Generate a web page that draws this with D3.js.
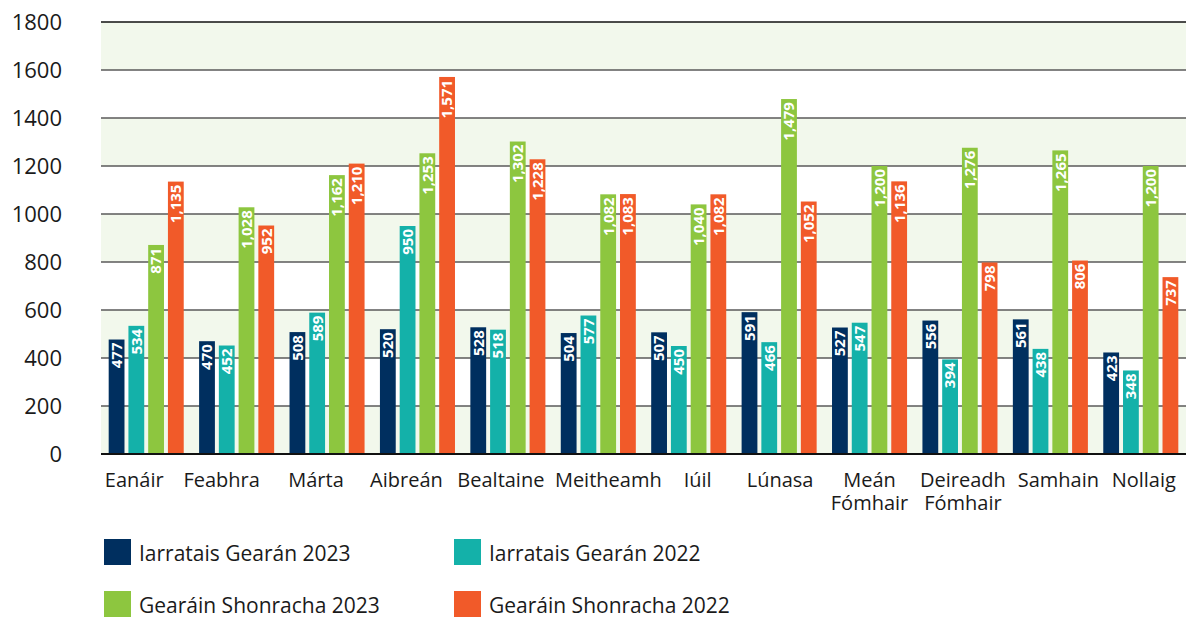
<!DOCTYPE html>
<html>
<head>
<meta charset="utf-8">
<script src="https://cdn.jsdelivr.net/npm/d3@7"></script>
<style>
  body { margin: 0; background: #fff; }
  svg text { font-family: "Open Sans", "Noto Sans", sans-serif; }
</style>
</head>
<body>
<div id="chart"></div>
<script>
// months along the x axis (a "|" marks a line break)
var months = ["Eanáir", "Feabhra", "Márta", "Aibreán", "Bealtaine", "Meitheamh", "Iúil",
  "Lúnasa", "Meán|Fómhair", "Deireadh|Fómhair", "Samhain", "Nollaig"];

var seriesNames = ["Iarratais Gearán 2023", "Iarratais Gearán 2022",
  "Gearáin Shonracha 2023", "Gearáin Shonracha 2022"];
var seriesColors = ["#002f5f", "#14b1a9", "#8dc63f", "#f15a29"];

var iarratais2023 = [477, 470, 508, 520, 528, 504, 507, 591, 527, 556, 561, 423];
var iarratais2022 = [534, 452, 589, 950, 518, 577, 450, 466, 547, 394, 438, 348];
var gearain2023 = [871, 1028, 1162, 1253, 1302, 1082, 1040, 1479, 1200, 1276, 1265, 1200];
var gearain2022 = [1135, 952, 1210, 1571, 1228, 1083, 1082, 1052, 1136, 798, 806, 737];

var yTicks = [0, 200, 400, 600, 800, 1000, 1200, 1400, 1600, 1800];

var seriesValues = [iarratais2023, iarratais2022, gearain2023, gearain2022];

var svgWidth = 1186;
var svgHeight = 617;

// plot area
var chartMargin = { top: 22, right: 0, bottom: 163, left: 101 };
var chartWidth = svgWidth - chartMargin.left - chartMargin.right;
var chartHeight = svgHeight - chartMargin.top - chartMargin.bottom;

// the month labels don't sit exactly centred in the original, nudge them a bit
var labelNudge = [-12, -15, -11, -11, -7, 10, 9, 1, 0, 3, 8, 3];

var svg = d3.select("#chart")
  .append("svg")
  .attr("width", svgWidth)
  .attr("height", svgHeight);

var chartGroup = svg.append("g")
  .attr("transform", `translate(${chartMargin.left}, ${chartMargin.top})`);

var x0 = d3.scaleBand()
  .domain(months)
  .range([0, chartWidth])
  .paddingInner(0.17)
  .paddingOuter(0.085);

var x1 = d3.scaleBand()
  .domain(d3.range(seriesNames.length))
  .range([0, x0.bandwidth()])
  .paddingInner(0.2);

var y = d3.scaleLinear()
  .domain([0, 1800])
  .range([chartHeight, 0]);

// alternating light green bands
var bandStarts = yTicks.filter((d, i) => i % 2 === 0 && d < 1800);
chartGroup.selectAll(".band")
  .data(bandStarts)
  .enter()
  .append("rect")
  .attr("class", "band")
  .attr("x", 0)
  .attr("width", chartWidth)
  .attr("y", d => y(d + 200))
  .attr("height", d => y(d) - y(d + 200))
  .attr("fill", "#f2f8ec");

// gridlines
chartGroup.selectAll(".grid")
  .data(yTicks.filter(d => d > 0))
  .enter()
  .append("line")
  .attr("class", "grid")
  .attr("x1", 0)
  .attr("x2", chartWidth)
  .attr("y1", d => y(d))
  .attr("y2", d => y(d))
  .attr("stroke", d => d === 1800 ? "#111" : "#5a5a5a")
  .attr("stroke-width", 1.5);

// y tick labels
svg.append("g")
  .selectAll("text")
  .data(yTicks)
  .enter()
  .append("text")
  .attr("x", 62)
  .attr("y", d => chartMargin.top + y(d))
  .attr("dy", "0.36em")
  .attr("text-anchor", "end")
  .attr("font-size", 22)
  .attr("fill", "#1a1a1a")
  .text(d => d);

// bars
var groups = chartGroup.selectAll(".month")
  .data(months)
  .enter()
  .append("g")
  .attr("class", "month")
  .attr("transform", d => `translate(${x0(d)}, 0)`);

groups.selectAll("rect")
  .data((m, mi) => seriesValues.map((vals, si) => ({ s: si, v: vals[mi] })))
  .enter()
  .append("rect")
  .attr("x", d => x1(d.s))
  .attr("y", d => y(d.v))
  .attr("width", x1.bandwidth())
  .attr("height", d => chartHeight - y(d.v))
  .attr("fill", d => seriesColors[d.s]);

// value labels, rotated inside the bar top
groups.selectAll(".val")
  .data((m, mi) => seriesValues.map((vals, si) => ({ s: si, v: vals[mi] })))
  .enter()
  .append("text")
  .attr("class", "val")
  .attr("transform", d => `translate(${x1(d.s) + x1.bandwidth() / 2}, ${y(d.v)}) rotate(-90)`)
  .attr("x", -3)
  .attr("dy", "0.36em")
  .attr("text-anchor", "end")
  .attr("font-size", 15)
  .attr("font-weight", "bold")
  .attr("fill", "#fff")
  .text(d => d3.format(",")(d.v));

// baseline
chartGroup.append("line")
  .attr("x1", 0)
  .attr("x2", chartWidth)
  .attr("y1", chartHeight)
  .attr("y2", chartHeight)
  .attr("stroke", "#111")
  .attr("stroke-width", 2);

// month labels, one text per line
var labelLines = [];
months.forEach(function(m, mi) {
  m.split("|").forEach(function(t, li) {
    labelLines.push({ m: m, mi: mi, t: t, line: li });
  });
});

chartGroup.selectAll(".mlabel")
  .data(labelLines)
  .enter()
  .append("text")
  .attr("class", "mlabel")
  .attr("x", d => x0(d.m) + x0.bandwidth() / 2 + labelNudge[d.mi])
  .attr("y", d => chartHeight + 33 + d.line * 23)
  .attr("text-anchor", "middle")
  .attr("font-size", 20)
  .attr("fill", "#1a1a1a")
  .text(d => d.t);

// legend, two columns
var legend = svg.append("g")
  .selectAll("g")
  .data(seriesNames)
  .enter()
  .append("g")
  .attr("transform", (d, i) => `translate(${i % 2 === 0 ? 104 : 454}, ${i < 2 ? 539 : 591})`);

legend.append("rect")
  .attr("width", 27)
  .attr("height", 26)
  .attr("fill", (d, i) => seriesColors[i]);

legend.append("text")
  .attr("x", 35)
  .attr("y", 22)
  .attr("font-size", 21)
  .attr("fill", "#1a1a1a")
  .text(d => d);
</script>
</body>
</html>
